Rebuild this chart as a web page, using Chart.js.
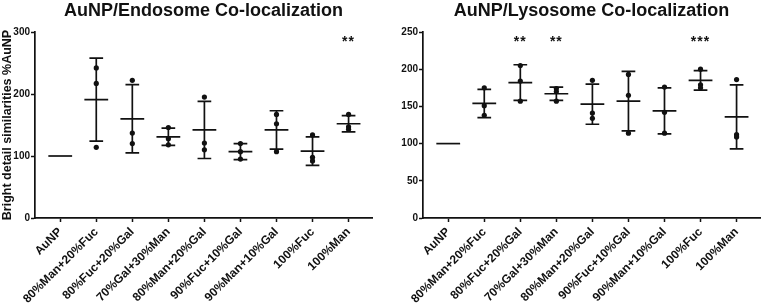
<!DOCTYPE html>
<html>
<head>
<meta charset="utf-8">
<script src="https://cdn.jsdelivr.net/npm/chart.js@4.4.1/dist/chart.umd.min.js"></script>
<style>
  body { margin: 0; background: #fff; }
  .panel { position: absolute; top: 0; }
</style>
</head>
<body>
<div class="panel" style="left:0"><canvas id="endo" width="380" height="304"></canvas></div>
<div class="panel" style="left:380px"><canvas id="lyso" width="384" height="304"></canvas></div>
<script>
const categories = ["AuNP", "80%Man+20%Fuc", "80%Fuc+20%Gal", "70%Gal+30%Man", "80%Man+20%Gal",
  "90%Fuc+10%Gal", "90%Man+10%Gal", "100%Fuc", "100%Man"];

// endosome panel
const endoPoints = [[], [242, 217, 114], [222, 137, 120], [146, 128, 118], [195, 121, 110],
  [120, 107, 95], [167, 152, 107], [134, 98, 92], [167, 147, 143]];
const endoMean = [100, 191, 160, 131, 142, 107, 142, 108, 152];
const endoSD = [0, 67, 55, 14, 46, 13, 31, 23, 13];
const endoStars = ["", "", "", "", "", "", "", "", "**"];
const endoTicks = [0, 100, 200, 300];

// lysosome panel
const lysoPoints = [[], [175, 151, 138], [205, 184, 157], [174, 170, 157], [185, 141, 134],
  [193, 165, 114], [176, 142, 114], [200, 179, 175], [186, 112, 109]];
const lysoMean = [100, 154, 182, 167, 153, 157, 144, 185, 136];
const lysoSD = [0, 19, 24, 9, 27, 40, 31, 13, 43];
const lysoStars = ["", "", "**", "**", "", "", "", "***", ""];
const lysoTicks = [0, 50, 100, 150, 200, 250];

const ink = "#111";
Chart.defaults.font.family = '"Liberation Sans", Arial, sans-serif';
Chart.defaults.color = ink;

// mean line + SD whiskers + significance stars
const meanSdPlugin = {
  id: "meanSd",
  beforeDatasetsDraw(chart, args, opts) {
    const { ctx, chartArea } = chart;
    const x = chart.scales.x, y = chart.scales.y;
    const step = x.getPixelForValue(1) - x.getPixelForValue(0);
    ctx.save();
    ctx.strokeStyle = ink;
    ctx.lineWidth = 1.7;
    opts.mean.forEach((m, i) => {
      const cx = x.getPixelForValue(i);
      const ym = y.getPixelForValue(m);
      ctx.beginPath();
      ctx.moveTo(cx - step * 0.33, ym);
      ctx.lineTo(cx + step * 0.33, ym);
      const sd = opts.sd[i];
      if (sd > 0) {
        const yt = y.getPixelForValue(m + sd);
        const yb = y.getPixelForValue(m - sd);
        ctx.moveTo(cx, yt);
        ctx.lineTo(cx, yb);
        ctx.moveTo(cx - step * 0.19, yt);
        ctx.lineTo(cx + step * 0.19, yt);
        ctx.moveTo(cx - step * 0.19, yb);
        ctx.lineTo(cx + step * 0.19, yb);
      }
      ctx.stroke();
    });
    ctx.fillStyle = ink;
    ctx.font = 'bold 14px "Liberation Sans", Arial, sans-serif';
    ctx.letterSpacing = "1px";
    ctx.textAlign = "center";
    ctx.textBaseline = "alphabetic";
    opts.stars.forEach((s, i) => {
      if (s) ctx.fillText(s, x.getPixelForValue(i), chartArea.top + 14);
    });
    ctx.restore();
  }
};

function makeChart(id, title, points, mean, sd, stars, ticks, yTitle, yWidth, padRight) {
  return new Chart(document.getElementById(id), {
    type: "scatter",
    data: {
      datasets: [{
        data: points.flatMap((vals, i) => vals.map(v => ({ x: i, y: v }))),
        pointRadius: 2.6,
        pointBackgroundColor: ink,
        pointBorderWidth: 0
      }]
    },
    options: {
      responsive: false,
      animation: false,
      layout: { padding: { right: padRight } },
      plugins: {
        legend: { display: false },
        tooltip: { enabled: false },
        title: {
          display: true,
          text: title,
          fullSize: false,
          color: ink,
          font: { size: 18, weight: "bold" },
          padding: { top: 0, bottom: 10.4 }
        },
        meanSd: { mean: mean, sd: sd, stars: stars }
      },
      scales: {
        x: {
          type: "linear",
          min: -0.7,
          max: 8.65,
          afterBuildTicks: s => { s.ticks = categories.map((c, i) => ({ value: i })); },
          afterFit: s => { s.height = 86; },
          grid: { drawOnChartArea: false, color: ink, tickLength: 4, tickWidth: 1.5 },
          border: { color: ink, width: 1.7 },
          ticks: {
            callback: v => categories[v],
            minRotation: 45,
            maxRotation: 45,
            autoSkip: false,
            padding: 3,
            font: { size: 12, weight: "bold" }
          }
        },
        y: {
          min: ticks[0],
          max: ticks[ticks.length - 1],
          afterBuildTicks: s => { s.ticks = ticks.map(v => ({ value: v })); },
          afterFit: s => { s.width = yWidth; },
          grid: { drawOnChartArea: false, color: ink, tickLength: 4, tickWidth: 1.5 },
          border: { color: ink, width: 1.7 },
          ticks: { padding: 1, font: { size: 10, weight: "bold" } },
          title: {
            display: !!yTitle,
            text: yTitle,
            padding: 0,
            font: { size: 12.5, weight: "bold" }
          }
        }
      }
    },
    plugins: [meanSdPlugin]
  });
}

makeChart("endo", "AuNP/Endosome Co-localization", endoPoints, endoMean, endoSD, endoStars,
  endoTicks, "Bright detail similarities %AuNP", 35, 8);
makeChart("lyso", "AuNP/Lysosome Co-localization", lysoPoints, lysoMean, lysoSD, lysoStars,
  lysoTicks, "", 43, 1);
</script>
</body>
</html>
